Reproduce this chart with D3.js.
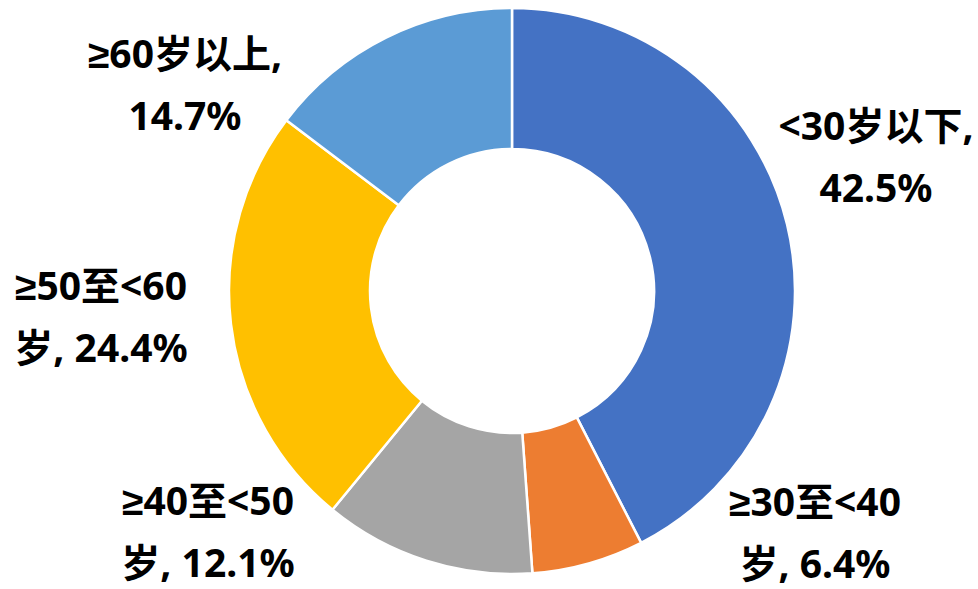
<!DOCTYPE html>
<html>
<head>
<meta charset="utf-8">
<script src="https://cdn.jsdelivr.net/npm/d3@7"></script>
<style>
  body { margin: 0; background: #fff; }
  text { font-family: "Noto Sans", "Liberation Sans", "Noto Sans CJK SC", sans-serif; font-weight: bold; fill: #000; }
</style>
</head>
<body>
<div id="chart"></div>
<script>
// Data
const categories = ['<30岁以下', '≥30至<40岁', '≥40至<50岁', '≥50至<60岁', '≥60岁以上'];
const values = [42.5, 6.4, 12.1, 24.4, 14.7];
const colors = ['#4472C4', '#ED7D31', '#A5A5A5', '#FFC000', '#5B9BD5'];

// Layout
const width = 978;
const height = 589;
const cx = 512, cy = 291;
const outerR = 283, innerR = 142;
const fontSize = 39;
const lineGap = 62;
// where each label wraps (chars on first line) and where its block sits
const labelBreak = [7, 7, 7, 7, 7];
const labelPos = [[876, 140], [815, 516], [208, 515], [101, 300], [185, 68]];

const svg = d3.select('#chart')
    .append('svg')
    .attr('width', width)
    .attr('height', height);

const g = svg.append('g')
    .attr('transform', `translate(${cx}, ${cy})`);

const pie = d3.pie()
    .sort(null)
    .value(d => d);

const arc = d3.arc()
    .innerRadius(innerR)
    .outerRadius(outerR);

const arcs = pie(values);

g.selectAll('path')
    .data(arcs)
    .enter()
    .append('path')
    .attr('d', arc)
    .attr('fill', (d, i) => colors[i])
    .attr('stroke', '#fff')
    .attr('stroke-width', 2.5)
    .attr('stroke-linejoin', 'round');

// Labels
arcs.forEach((d, i) => {
    const full = `${categories[i]}, ${values[i].toFixed(1)}%`;
    const line1 = full.slice(0, labelBreak[i]).trim();
    const line2 = full.slice(labelBreak[i]).trim();
    const t = svg.append('text')
        .attr('text-anchor', 'middle')
        .style('font-size', fontSize + 'px');
    t.append('tspan')
        .attr('x', labelPos[i][0])
        .attr('y', labelPos[i][1])
        .text(line1);
    t.append('tspan')
        .attr('x', labelPos[i][0])
        .attr('y', labelPos[i][1] + lineGap)
        .text(line2);
});
</script>
</body>
</html>
